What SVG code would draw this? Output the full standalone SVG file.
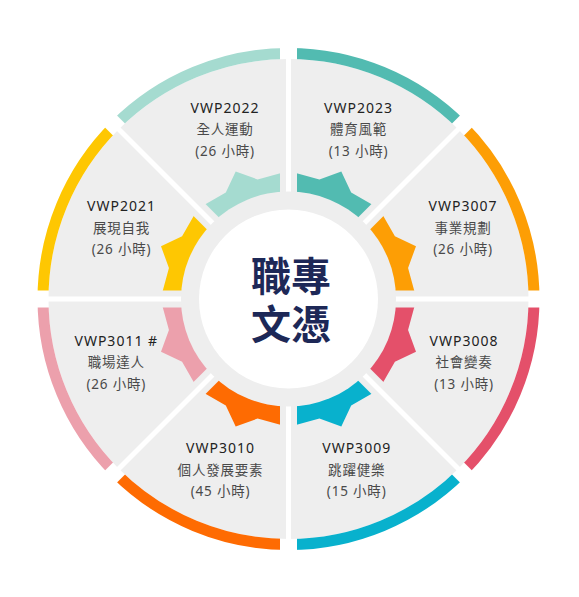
<svg xmlns="http://www.w3.org/2000/svg" xmlns:xlink="http://www.w3.org/1999/xlink" width="579" height="597" viewBox="0 0 579 597">
<style>
.gray{fill:#eeeeee}
.code{font-family:"Noto Sans","Noto Sans CJK TC",sans-serif;font-size:14px;fill:#222222;letter-spacing:1px;text-anchor:middle}
.zh{font-family:"Noto Sans","Noto Sans CJK TC",sans-serif;font-size:13.5px;fill:#4a4a4a;letter-spacing:0.8px;text-anchor:middle}
.title{font-family:"Noto Sans CJK TC","Noto Sans",sans-serif;font-size:40px;font-weight:700;fill:#1d2857;text-anchor:middle}
.sep{stroke:#ffffff;stroke-width:5}
</style>
<defs>
<path id="wedge" d="M288.5 299 L288.5 59 A240 240 0 0 1 458.21 129.29 Z"/>
<polygon id="star" points="288.5,199 288.5,171 319.42,179.44 341.31,171.5 351.18,192.59 379.01,208.49 359.21,228.29"/>
<path id="arc" d="M288.5 53.5 A245.5 245.5 0 0 1 462.09 125.41" fill="none" stroke-width="11"/>
<mask id="gap" maskUnits="userSpaceOnUse" x="0" y="0" width="579" height="597">
<rect x="0" y="0" width="579" height="597" fill="#ffffff"/>
<g stroke="#000000" stroke-width="17">
<line x1="288.5" y1="30" x2="288.5" y2="568"/>
<line x1="20" y1="299" x2="557" y2="299"/>
<line x1="478" y1="109.5" x2="99" y2="488.5"/>
<line x1="478" y1="488.5" x2="99" y2="109.5"/>
</g>
</mask>
</defs>

<g id="n2023">
<use xlink:href="#wedge" class="gray"/>
<g mask="url(#gap)"><use xlink:href="#star" fill="#52bbb1"/><use xlink:href="#arc" stroke="#52bbb1"/></g>
<text class="code" x="358.5" y="112.7">VWP2023</text>
<text class="zh" x="358.5" y="134">體育風範</text>
<text class="zh" x="358.5" y="155.5">(13 小時)</text>
</g>

<g id="n3007">
<use xlink:href="#wedge" class="gray" transform="rotate(45 288.5 299)"/>
<g mask="url(#gap)"><g transform="rotate(45 288.5 299)"><use xlink:href="#star" fill="#fd9e05"/><use xlink:href="#arc" stroke="#fd9e05"/></g></g>
<text class="code" x="463" y="211">VWP3007</text>
<text class="zh" x="463" y="232.5">事業規劃</text>
<text class="zh" x="463" y="254">(26 小時)</text>
</g>

<g id="n3008">
<use xlink:href="#wedge" class="gray" transform="rotate(90 288.5 299)"/>
<g mask="url(#gap)"><g transform="rotate(90 288.5 299)"><use xlink:href="#star" fill="#e4506a"/><use xlink:href="#arc" stroke="#e4506a"/></g></g>
<text class="code" x="464" y="345.7">VWP3008</text>
<text class="zh" x="464" y="367">社會變奏</text>
<text class="zh" x="464" y="389">(13 小時)</text>
</g>

<g id="n3009">
<use xlink:href="#wedge" class="gray" transform="rotate(135 288.5 299)"/>
<g mask="url(#gap)"><g transform="rotate(135 288.5 299)"><use xlink:href="#star" fill="#08b1cd"/><use xlink:href="#arc" stroke="#08b1cd"/></g></g>
<text class="code" x="356.7" y="453.3">VWP3009</text>
<text class="zh" x="356.7" y="474.5">跳躍健樂</text>
<text class="zh" x="356.7" y="496">(15 小時)</text>
</g>

<g id="n3010">
<use xlink:href="#wedge" class="gray" transform="rotate(180 288.5 299)"/>
<g mask="url(#gap)"><g transform="rotate(180 288.5 299)"><use xlink:href="#star" fill="#fe6b02"/><use xlink:href="#arc" stroke="#fe6b02"/></g></g>
<text class="code" x="220.5" y="453.3">VWP3010</text>
<text class="zh" x="220.5" y="474.5">個人發展要素</text>
<text class="zh" x="220.5" y="496">(45 小時)</text>
</g>

<g id="n3011">
<use xlink:href="#wedge" class="gray" transform="rotate(225 288.5 299)"/>
<g mask="url(#gap)"><g transform="rotate(225 288.5 299)"><use xlink:href="#star" fill="#eca0ac"/><use xlink:href="#arc" stroke="#eca0ac"/></g></g>
<text class="code" x="116.3" y="345.7">VWP3011 #</text>
<text class="zh" x="116.3" y="367">職場達人</text>
<text class="zh" x="116.3" y="389">(26 小時)</text>
</g>

<g id="n2021">
<use xlink:href="#wedge" class="gray" transform="rotate(270 288.5 299)"/>
<g mask="url(#gap)"><g transform="rotate(270 288.5 299)"><use xlink:href="#star" fill="#fec702"/><use xlink:href="#arc" stroke="#fec702"/></g></g>
<text class="code" x="121.5" y="211">VWP2021</text>
<text class="zh" x="121.5" y="232.5">展現自我</text>
<text class="zh" x="121.5" y="254">(26 小時)</text>
</g>

<g id="n2022">
<use xlink:href="#wedge" class="gray" transform="rotate(315 288.5 299)"/>
<g mask="url(#gap)"><g transform="rotate(315 288.5 299)"><use xlink:href="#star" fill="#a5dbd0"/><use xlink:href="#arc" stroke="#a5dbd0"/></g></g>
<text class="code" x="225" y="112.7">VWP2022</text>
<text class="zh" x="225" y="134">全人運動</text>
<text class="zh" x="225" y="155.5">(26 小時)</text>
</g>

<g id="connectors">
<line class="sep" x1="288.5" y1="55" x2="288.5" y2="543"/>
<line class="sep" x1="44.5" y1="299" x2="532.5" y2="299"/>
<line class="sep" x1="461" y1="126.5" x2="116" y2="471.5"/>
<line class="sep" x1="461" y1="471.5" x2="116" y2="126.5"/>
</g>

<g id="center">
<circle cx="288.5" cy="299" r="107.5" class="gray"/>
<circle cx="288.5" cy="299" r="89.5" fill="#ffffff"/>
<text class="title" x="291" y="290.5">職專</text>
<text class="title" x="291" y="339">文憑</text>
</g>
</svg>
